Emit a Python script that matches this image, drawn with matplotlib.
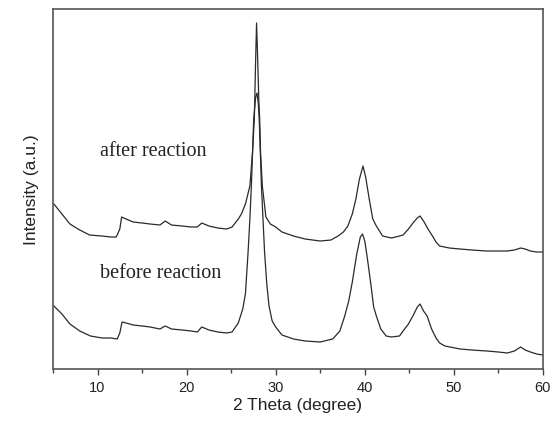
import matplotlib
matplotlib.use('Agg')
import matplotlib.pyplot as plt
from matplotlib.ticker import MultipleLocator

# 2 theta positions and intensities (a.u.)
theta_before = [5.1, 6.0, 6.9, 8.0, 9.2, 10.5, 11.5, 12.2, 12.5, 12.75, 13.2, 14.0, 15.0, 15.9,
                17.0, 17.6, 18.3, 19.5, 20.5, 21.2, 21.7, 22.5, 23.5, 24.5, 25.1, 25.8,
                26.3, 26.6, 26.9, 27.1, 27.27, 27.53, 27.75, 27.9, 28.05, 28.15, 28.4, 28.6,
                28.75, 29.0, 29.25, 29.6, 30.0, 30.7, 32.0, 33.3, 35.0, 36.4, 37.2, 37.75,
                38.2, 38.6, 39.1, 39.5, 39.75, 40.0, 40.3, 40.65, 41.0, 41.3, 41.8, 42.4,
                43.0, 43.9, 44.3, 44.9, 45.4, 45.9, 46.2, 46.6, 47.0, 47.5, 48.0, 48.4,
                49.0, 50.7, 52.0, 53.7, 55.0, 56.0, 56.8, 57.5, 58.0, 58.6, 59.3, 60.0]
int_before = [63, 55, 45, 38, 33, 31, 31, 30, 36, 47, 46, 44, 43, 42,
              40, 43, 40, 39, 38, 37, 42, 39, 37, 36, 37, 46,
              60, 75, 117, 150, 183, 250, 272, 276, 265, 250, 183, 145,
              117, 85, 63, 48, 42, 34, 30, 28, 27, 30, 38, 53,
              68, 87, 115, 132, 135, 128, 110, 87, 62, 53, 40, 33,
              32, 33, 38, 45, 53, 62, 65, 58, 53, 40, 31, 26,
              23, 20, 19, 18, 17, 16, 18, 22, 19, 17, 15, 14]

theta_after = [5.1, 6.0, 6.9, 8.0, 9.1, 10.5, 11.5, 12.1, 12.5, 12.7, 13.2, 14.0, 15.0, 15.9,
               17.0, 17.6, 18.3, 19.5, 20.5, 21.2, 21.7, 22.5, 23.5, 24.5, 25.1, 25.8,
               26.15, 26.6, 27.1, 27.4, 27.6, 27.75, 27.85, 27.95, 28.1, 28.2, 28.3, 28.5,
               28.9, 29.4, 30.0, 30.7, 32.0, 33.3, 35.0, 36.2, 37.0, 37.6, 38.1, 38.6,
               39.0, 39.4, 39.8, 40.1, 40.5, 40.9, 41.3, 42.0, 43.0, 43.9, 44.3, 44.9,
               45.5, 45.9, 46.2, 46.6, 47.1, 47.6, 48.0, 48.4, 49.5, 50.7, 52.0, 53.7,
               55.0, 56.0, 56.8, 57.5, 58.0, 58.6, 59.3, 60.0]
int_after = [165, 155, 145, 139, 134, 133, 132, 132, 140, 152, 150, 147, 146, 145,
             144, 148, 144, 143, 142, 142, 146, 143, 141, 140, 142, 150,
             155, 165, 183, 217, 250, 310, 346, 318, 270, 250, 217, 183,
             152, 145, 142, 137, 133, 130, 128, 129, 133, 137, 143, 155,
             170, 190, 203, 192, 170, 150, 143, 133, 131, 133, 134, 140,
             147, 151, 153, 148, 140, 133, 127, 123, 121, 120, 119, 118,
             118, 118, 119, 121, 120, 118, 117, 117]

fig = plt.figure(figsize=(5.54, 4.27), dpi=100)
ax = fig.add_axes([0.0957, 0.1335, 0.8843, 0.843])

ax.plot(theta_before, int_before, color='#2a2a2a', lw=0.9)
ax.plot(theta_after, int_after, color='#2a2a2a', lw=0.9)

ax.text(16.2, 219, 'after reaction', family='Liberation Serif', fontsize=14.5,
        ha='center', va='center', color='#222222')
ax.text(17.1, 97, 'before reaction', family='Liberation Serif', fontsize=14.5,
        ha='center', va='center', color='#222222')

ax.set_xlim(5, 60)
ax.set_ylim(0, 360)
ax.set_yticks([])
ax.xaxis.set_major_locator(MultipleLocator(10))
ax.xaxis.set_minor_locator(MultipleLocator(5))
ax.tick_params(axis='x', which='major', direction='out', length=4, width=1, colors='#444444',
               labelcolor='#222222', labelsize=10.5, pad=4)
ax.tick_params(axis='x', which='minor', direction='out', length=3, width=1, colors='#444444')
for lbl in ax.get_xticklabels():
    lbl.set_family('Liberation Sans')

for s in ax.spines.values():
    s.set_color('#555555')
    s.set_linewidth(1.2)

ax.set_xlabel('2 Theta (degree)', family='Liberation Sans', fontsize=12.5, color='#222222',
              labelpad=2)
ax.set_ylabel('Intensity (a.u.)', family='Liberation Sans', fontsize=12.5, color='#222222',
              labelpad=10)

fig.savefig('out.png', dpi=100)
